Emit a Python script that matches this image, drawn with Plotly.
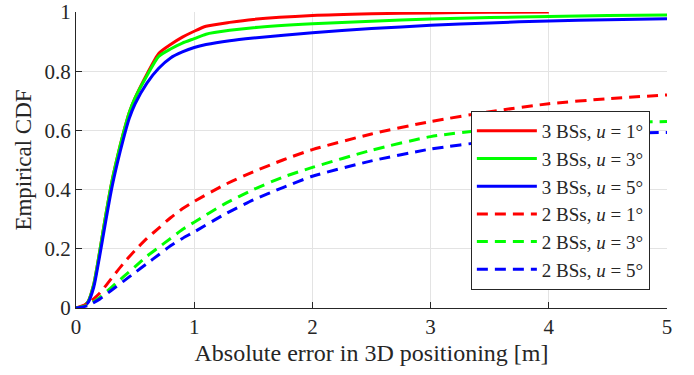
import plotly.graph_objects as go

# ---- data ----
x_r3 = [0, 0.05, 0.1, 0.15, 0.2, 0.25, 0.3, 0.35, 0.4, 0.45, 0.5, 0.6, 0.7, 0.8, 0.9, 1.0, 1.1, 1.3, 1.5, 2.0, 2.5, 3.0, 3.5, 4.0]
y_r3 = [0, 0.003, 0.02, 0.08, 0.19, 0.31, 0.42, 0.51, 0.59, 0.66, 0.71, 0.79, 0.86, 0.89, 0.915, 0.935, 0.952, 0.965, 0.975, 0.988, 0.994, 0.997, 0.999, 1.0]

x_g3 = [0, 0.05, 0.1, 0.15, 0.2, 0.25, 0.3, 0.35, 0.4, 0.45, 0.5, 0.6, 0.7, 0.8, 0.9, 1.0, 1.1, 1.3, 1.5, 2.0, 2.5, 3.0, 3.5, 4.0, 4.5, 5.0]
y_g3 = [0, 0.003, 0.02, 0.08, 0.19, 0.31, 0.42, 0.51, 0.59, 0.66, 0.71, 0.785, 0.85, 0.875, 0.895, 0.91, 0.925, 0.938, 0.947, 0.96, 0.969, 0.976, 0.981, 0.985, 0.988, 0.99]

x_b3 = [0, 0.05, 0.1, 0.15, 0.2, 0.25, 0.3, 0.35, 0.4, 0.45, 0.5, 0.6, 0.7, 0.8, 0.9, 1.0, 1.1, 1.3, 1.5, 2.0, 2.5, 3.0, 3.5, 4.0, 4.5, 5.0]
y_b3 = [0, 0.002, 0.017, 0.07, 0.175, 0.29, 0.40, 0.49, 0.57, 0.64, 0.69, 0.76, 0.81, 0.845, 0.865, 0.88, 0.89, 0.903, 0.912, 0.93, 0.944, 0.955, 0.963, 0.97, 0.974, 0.977]

x_2 = [0, 0.1, 0.2, 0.3, 0.4, 0.5, 0.6, 0.7, 0.8, 0.9, 1.0, 1.25, 1.5, 1.75, 2.0, 2.5, 3.0, 3.5, 4.0, 4.5, 5.0]
y_r2 = [0, 0.015, 0.05, 0.1, 0.15, 0.195, 0.235, 0.27, 0.305, 0.335, 0.36, 0.415, 0.46, 0.5, 0.535, 0.588, 0.63, 0.663, 0.69, 0.707, 0.72]
y_g2 = [0, 0.01, 0.035, 0.07, 0.105, 0.14, 0.175, 0.205, 0.235, 0.265, 0.29, 0.35, 0.40, 0.442, 0.475, 0.533, 0.579, 0.603, 0.615, 0.625, 0.63]
y_b2 = [0, 0.008, 0.03, 0.06, 0.09, 0.12, 0.15, 0.18, 0.21, 0.235, 0.257, 0.315, 0.365, 0.407, 0.445, 0.497, 0.537, 0.563, 0.58, 0.59, 0.593]

names = ["3 BSs, <i>u</i> = 1°", "3 BSs, <i>u</i> = 3°", "3 BSs, <i>u</i> = 5°",
         "2 BSs, <i>u</i> = 1°", "2 BSs, <i>u</i> = 3°", "2 BSs, <i>u</i> = 5°"]
colors = ["#ff0000", "#00ff00", "#0000ff"]

font_family = "Liberation Serif"
ink = "#262626"

fig = go.Figure()
series = [(x_r3, y_r3), (x_g3, y_g3), (x_b3, y_b3), (x_2, y_r2), (x_2, y_g2), (x_2, y_b2)]
for i, (xs, ys) in enumerate(series):
    fig.add_trace(go.Scatter(
        x=xs, y=ys, mode="lines", name=names[i],
        line=dict(color=colors[i % 3], width=3,
                  dash="solid" if i < 3 else "11px,7px", shape="spline", smoothing=0.6),
    ))

fig.update_layout(
    width=694, height=375,
    margin=dict(l=76, r=27, t=12, b=67),
    paper_bgcolor="white", plot_bgcolor="white",
    font=dict(family=font_family, size=21, color=ink),
    showlegend=True,
    legend=dict(x=0.971, y=0.061, xanchor="right", yanchor="bottom",
                bgcolor="white", bordercolor=ink, borderwidth=1,
                font=dict(family=font_family, size=19, color=ink),
                itemwidth=60, tracegroupgap=0),
    xaxis=dict(range=[0, 5], tickvals=[0, 1, 2, 3, 4, 5], ticks="inside", ticklen=6,
               tickcolor=ink, showline=True, linecolor=ink, linewidth=1,
               showgrid=True, gridcolor="#e3e3e3", gridwidth=1, zeroline=False,
               automargin=False,
               title=dict(text="Absolute error in 3D positioning [m]", font=dict(size=24), standoff=5),
               tickfont=dict(size=21)),
    yaxis=dict(range=[0, 1], tickvals=[0, 0.2, 0.4, 0.6, 0.8, 1], ticktext=["0", "0.2", "0.4", "0.6", "0.8", "1"],
               ticks="inside", ticklen=6, tickcolor=ink, showline=True, linecolor=ink,
               linewidth=1, showgrid=True, gridcolor="#e3e3e3", gridwidth=1, zeroline=False,
               automargin=False,
               title=dict(text="Empirical CDF", font=dict(size=23), standoff=6),
               tickfont=dict(size=21)),
)

fig.write_html("out.html", config={"displayModeBar": False},
               post_script="document.body.style.margin='0';")
